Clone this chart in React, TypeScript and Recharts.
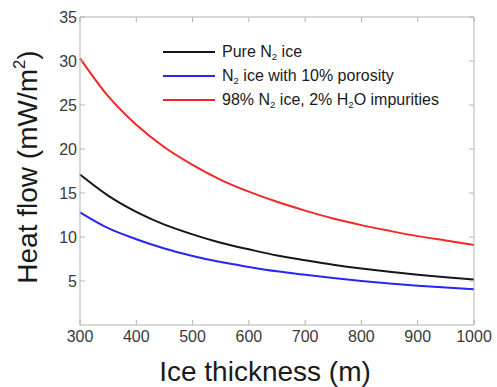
import React from 'react';
import { LineChart, Line, XAxis, YAxis } from 'recharts';

// Ice thickness (m)
const thickness = [300, 350, 400, 450, 500, 550, 600, 650, 700, 750, 800, 850, 900, 950, 1000];

// Heat flow (mW/m^2)
const pureN2 = [17.1, 14.7, 12.85, 11.4, 10.3, 9.35, 8.6, 7.9, 7.35, 6.85, 6.42, 6.05, 5.72, 5.43, 5.18];
const porousN2 = [12.8, 11.0, 9.75, 8.7, 7.85, 7.15, 6.6, 6.1, 5.7, 5.33, 5.0, 4.72, 4.47, 4.25, 4.05];
const impureN2 = [30.3, 26.0, 22.75, 20.2, 18.2, 16.5, 15.15, 14.0, 13.0, 12.1, 11.35, 10.7, 10.1, 9.6, 9.1];

const xTicks = [300, 400, 500, 600, 700, 800, 900, 1000];
const yTicks = [5, 10, 15, 20, 25, 30, 35];

const data = thickness.map((t, i) => ({
  t,
  pure: pureN2[i],
  porous: porousN2[i],
  impure: impureN2[i],
}));

const FONT = '"Liberation Sans", Arial, Helvetica, sans-serif';
const AXIS = '#b3b3b3';

const Sub = ({ children }: { children: React.ReactNode }) => (
  <sub style={{ fontSize: '0.6em', verticalAlign: '-0.35em', lineHeight: 0 }}>{children}</sub>
);

const series = [
  { key: 'pure', color: '#161616', label: <>Pure N<Sub>2</Sub> ice</> },
  { key: 'porous', color: '#2626f5', label: <>N<Sub>2</Sub> ice with 10% porosity</> },
  { key: 'impure', color: '#f52626', label: <>98% N<Sub>2</Sub> ice, 2% H<Sub>2</Sub>O impurities</> },
];

const tickStyle = { fontSize: 16, fill: '#3a3a3a', fontFamily: FONT };

export default function App() {
  return (
    <div style={{ position: 'absolute', left: 0, top: 0, width: 497, height: 387, background: '#fff', fontFamily: FONT }}>
      <LineChart width={497} height={387} data={data} margin={{ top: 16, right: 22, bottom: 0, left: 0 }}>
        <XAxis
          dataKey="t"
          type="number"
          domain={[300, 1000]}
          ticks={xTicks}
          height={62}
          stroke={AXIS}
          tickSize={-5}
          tickMargin={11}
          tick={tickStyle}
        />
        <XAxis
          xAxisId="top"
          dataKey="t"
          orientation="top"
          type="number"
          domain={[300, 1000]}
          ticks={xTicks}
          height={1}
          stroke={AXIS}
          tickSize={-5}
          tickFormatter={() => ''}
        />
        <YAxis
          type="number"
          domain={[0, 35]}
          ticks={yTicks}
          width={80}
          stroke={AXIS}
          tickSize={-5}
          tickMargin={8}
          tick={tickStyle}
        />
        <YAxis
          yAxisId="right"
          orientation="right"
          type="number"
          domain={[0, 35]}
          ticks={yTicks}
          width={1}
          stroke={AXIS}
          tickSize={-5}
          tickFormatter={() => ''}
        />
        {series.map((s) => (
          <Line
            key={s.key}
            type="monotone"
            dataKey={s.key}
            stroke={s.color}
            strokeWidth={2}
            dot={false}
            isAnimationActive={false}
          />
        ))}
        {/* invisible series so the frame axes get drawn */}
        <Line
          xAxisId="top"
          yAxisId="right"
          dataKey="pure"
          stroke="none"
          dot={false}
          activeDot={false}
          legendType="none"
          isAnimationActive={false}
        />
      </LineChart>

      {/* legend */}
      <div style={{ position: 'absolute', left: 163, top: 40 }}>
        {series.map((s) => (
          <div key={s.key} style={{ display: 'flex', alignItems: 'center', height: 24 }}>
            <div style={{ width: 52, height: 2, background: s.color, marginRight: 7 }} />
            <span style={{ fontSize: 16, color: '#1a1a1a', whiteSpace: 'nowrap' }}>{s.label}</span>
          </div>
        ))}
      </div>

      {/* axis titles */}
      <div
        style={{
          position: 'absolute',
          left: 265,
          top: 372,
          transform: 'translate(-50%, -50%)',
          fontSize: 28,
          color: '#1a1a1a',
          whiteSpace: 'nowrap',
        }}
      >
        Ice thickness (m)
      </div>
      <div
        style={{
          position: 'absolute',
          left: 28,
          top: 167,
          transform: 'translate(-50%, -50%) rotate(-90deg)',
          fontSize: 28,
          color: '#1a1a1a',
          whiteSpace: 'nowrap',
        }}
      >
        Heat flow (mW/m<sup style={{ fontSize: '0.6em', verticalAlign: '0.7em', lineHeight: 0 }}>2</sup>)
      </div>
    </div>
  );
}
